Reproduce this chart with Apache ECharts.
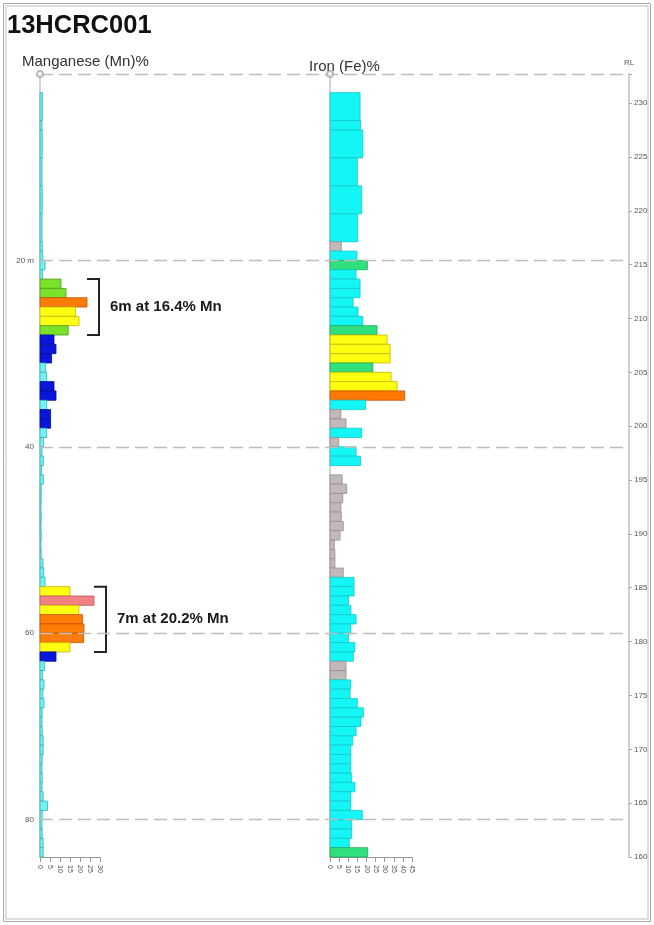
<!DOCTYPE html>
<html><head><meta charset="utf-8">
<script src="https://cdn.jsdelivr.net/npm/echarts@6/dist/echarts.min.js"></script>
<style>html,body{margin:0;padding:0;background:#fff}#c{width:654px;height:925px}</style>
</head><body><div id="c"></div>
<script>
// ---------- data ----------
const holeId = '13HCRC001';
const mnTitle = 'Manganese (Mn)%';
const feTitle = 'Iron (Fe)%';
const depthMin = 0, depthMax = 84;           // metres down hole
const rlTop = 232.7, rlBottom = 160;         // reduced level at collar / end of hole
const depthTickStep = 20;
const rlTickStep = 5;
const mnAxisMax = 30, feAxisMax = 45, gradeTickStep = 5;

// [from, to, Mn %]
const mnIntervals = [
  [2,5,1.2],[5,6,1.0],[6,9,1.1],[9,12,1.0],[12,15,1.1],[15,18,1.0],[18,19,1.1],[19,20,1.4],[20,21,2.5],[21,22,1.3],
  [22,23,10.5],[23,24,13],[24,25,23.5],[25,26,17.8],[26,27,19.5],[27,28,14.1],
  [28,29,7],[29,30,8],[30,31,5.8],[31,32,2.8],[32,33,3.3],[33,34,7],[34,35,8],[35,36,3.3],[36,37,5.3],[37,38,5.3],
  [38,39,3.3],[39,40,1.7],[40,41,1.0],[41,42,1.7],[42,43,0.8],[43,44,1.7],[44,45,0.6],[45,46,0.6],[46,47,0.5],
  [47,48,0.6],[48,49,0.5],[49,50,0.6],[50,51,0.5],[51,52,0.6],[52,53,1.5],[53,54,1.8],[54,55,2.5],
  [55,56,15],[56,57,27],[57,58,19.4],[58,59,21.2],[59,60,22],[60,61,21.8],[61,62,15],
  [62,63,8],[63,64,2.2],[64,65,1.2],[65,66,2.0],[66,67,1.4],[67,68,2.0],[68,69,1.1],[69,70,1.0],[70,71,1.1],
  [71,72,1.6],[72,73,1.6],[73,74,1.1],[74,75,1.0],[75,76,1.1],[76,77,1.0],[77,78,1.6],[78,79,3.8],[79,80,1.1],
  [80,81,1.0],[81,82,1.1],[82,83,1.6],[83,84,1.6]
];

// [from, to, Fe %]
const feIntervals = [
  [2,5,16.5],[5,6,16.8],[6,9,18],[9,12,15],[12,15,17.4],[15,18,15.2],[18,19,6.2],[19,20,14.8],[20,21,20.5],
  [21,22,14.3],[22,23,16.5],[23,24,16.5],[24,25,12.7],[25,26,15.4],[26,27,18],[27,28,25.8],[28,29,31.3],
  [29,30,33],[30,31,33],[31,32,23.5],[32,33,33.5],[33,34,36.8],[34,35,41],[35,36,19.5],[36,37,6],[37,38,8.8],
  [38,39,17.4],[39,40,4.8],[40,41,14.3],[41,42,16.8],
  [43,44,6.7],[44,45,9.2],[45,46,7],[46,47,6],[47,48,6.2],[48,49,7.3],[49,50,5.5],[50,51,2.4],[51,52,2.7],
  [52,53,2.7],[53,54,7.3],
  [54,55,13.2],[55,56,13.2],[56,57,10.2],[57,58,11.5],[58,59,14.3],[59,60,11.4],[60,61,10.2],[61,62,13.7],
  [62,63,12.8],[63,64,8.8],[64,65,8.8],
  [65,66,11.4],[66,67,11],[67,68,15],[68,69,18.3],[69,70,17],[70,71,14.3],[71,72,12.5],[72,73,11.4],[73,74,11.4],
  [74,75,11.4],[75,76,11.9],[76,77,13.7],[77,78,11.4],[78,79,11.4],[79,80,17.7],[80,81,11.9],[81,82,11.9],
  [82,83,10.6],[83,84,20.7]
];

// significant intercepts
const interceptFrom = [22, 55];
const interceptTo = [28, 62];
const interceptLabel = ['6m at 16.4% Mn', '7m at 20.2% Mn'];

// grade classes
const mnBreaks = [5, 10, 15, 20, 25];
const feBreaks = [10, 20, 30, 40];

// ---------- styles ----------
const mnFill   = ['#6ff3f3', '#0a16dc', '#7be22c', '#ffff12', '#ff7c06', '#f08282'];
const mnStroke = ['#2fb4b4', '#050c8a', '#4f9a18', '#c8b400', '#c85200', '#c05858'];
const feFill   = ['#c1b9b9', '#14f6f6', '#2fe07c', '#ffff10', '#ff7a04'];
const feStroke = ['#9a8e8e', '#14c8c8', '#1fa85a', '#c8b400', '#c85200'];
const FONT = 'Liberation Sans, Arial, sans-serif';

function classIndex(v, breaks) { let k = 0; while (k < breaks.length && v >= breaks[k]) k++; return k; }

function barRenderer(fills, strokes, breaks) {
  return function (params, api) {
    const from = api.value(0), to = api.value(1), v = api.value(2);
    const p0 = api.coord([0, from]);
    const p1 = api.coord([v, to]);
    const k = classIndex(v, breaks);
    return {
      type: 'rect',
      shape: { x: p0[0], y: p0[1], width: p1[0] - p0[0], height: p1[1] - p0[1] },
      style: { fill: fills[k], stroke: strokes[k], lineWidth: 0.8 }
    };
  };
}

const interceptData = interceptFrom.map((f, i) => {
  const t = interceptTo[i];
  let mx = 0;
  mnIntervals.forEach(r => { if (r[0] >= f && r[1] <= t) mx = Math.max(mx, r[2]); });
  return [f, t, mx, i];
});

const TOP = 74, BOTTOM = 925 - 857;

const chart = echarts.init(document.getElementById('c'), null, { renderer: 'canvas' });

const depthAxisBase = {
  type: 'value', inverse: true, min: depthMin, max: depthMax, interval: depthTickStep,
  splitLine: { show: false }
};

const gradeAxisBase = {
  type: 'value', interval: gradeTickStep, position: 'bottom', min: 0,
  axisLine: { show: true, onZero: false, lineStyle: { color: '#9a9a9a', width: 1 } },
  axisTick: { show: true, length: 5, lineStyle: { color: '#9a9a9a' } },
  axisLabel: { rotate: -90, fontSize: 7, color: '#555', margin: 8 },
  splitLine: { show: false }
};

chart.setOption({
  animation: false,
  backgroundColor: '#fff',
  textStyle: { fontFamily: FONT },
  title: [
    { text: holeId, left: 7, top: 13, padding: 0, textStyle: { fontSize: 25.5, fontWeight: 'bold', color: '#111', fontFamily: FONT } },
    { text: mnTitle, left: 22, top: 54, padding: 0, textStyle: { fontSize: 15, fontWeight: 'normal', color: '#333', fontFamily: FONT } },
    { text: feTitle, left: 309, top: 59, padding: 0, textStyle: { fontSize: 15, fontWeight: 'normal', color: '#333', fontFamily: FONT } }
  ],
  graphic: [
    { type: 'rect', shape: { x: 3.5, y: 3.5, width: 647, height: 918 }, style: { fill: 'none', stroke: '#a8a8a8', lineWidth: 1 }, silent: true },
    { type: 'rect', shape: { x: 6, y: 6, width: 642, height: 913 }, style: { fill: 'none', stroke: '#d4d4d4', lineWidth: 1.5 }, silent: true }
  ],
  grid: [
    { left: 40, right: 654 - 629, top: TOP, bottom: BOTTOM },
    { left: 40, width: 60, top: TOP, bottom: BOTTOM },
    { left: 330, width: 82, top: TOP, bottom: BOTTOM }
  ],
  xAxis: [
    { gridIndex: 0, type: 'value', min: 0, max: 1, show: false },
    Object.assign({}, gradeAxisBase, { gridIndex: 1, max: mnAxisMax }),
    Object.assign({}, gradeAxisBase, { gridIndex: 2, max: feAxisMax })
  ],
  yAxis: [
    Object.assign({}, depthAxisBase, {
      gridIndex: 0, position: 'left',
      axisLine: { show: false }, axisTick: { show: false },
      axisLabel: { fontSize: 8, color: '#555', margin: 6,
        formatter: v => (v === 0 || v % depthTickStep !== 0) ? '' : (v === depthTickStep ? v + ' m' : String(v)) }
    }),
    { gridIndex: 0, type: 'value', position: 'right', min: rlBottom, max: rlTop, interval: rlTickStep,
      name: 'RL', nameLocation: 'end', nameGap: 7, nameTextStyle: { fontSize: 8, color: '#555' },
      axisLine: { show: true, lineStyle: { color: '#cfcfcf', width: 2 } },
      axisTick: { show: true, length: 3, lineStyle: { color: '#aaa' } },
      axisLabel: { fontSize: 8, color: '#555', margin: 5,
        formatter: v => (Math.abs(v % rlTickStep) > 1e-6) ? '' : String(Math.round(v)) },
      splitLine: { show: false } },
    Object.assign({}, depthAxisBase, { gridIndex: 1,
      axisLine: { show: true, lineStyle: { color: '#c4c4c4', width: 1.5 } }, axisTick: { show: false }, axisLabel: { show: false } }),
    Object.assign({}, depthAxisBase, { gridIndex: 2,
      axisLine: { show: true, lineStyle: { color: '#c4c4c4', width: 1.5 } }, axisTick: { show: false }, axisLabel: { show: false } })
  ],
  series: [
    { type: 'line', xAxisIndex: 0, yAxisIndex: 0, data: [[0, 0]], showSymbol: false, lineStyle: { opacity: 0 }, silent: true,
      markLine: { silent: true, symbol: ['none', 'none'], label: { show: false },
        lineStyle: { color: '#bdbdbd', width: 1.3, type: [13, 6] },
        data: [0, 20, 40, 60, 80].map(d => ({ yAxis: d })) } },
    { type: 'custom', name: 'Mn', xAxisIndex: 1, yAxisIndex: 2, clip: false,
      renderItem: barRenderer(mnFill, mnStroke, mnBreaks), encode: { x: 2, y: [0, 1] }, data: mnIntervals },
    { type: 'custom', name: 'Fe', xAxisIndex: 2, yAxisIndex: 3, clip: false,
      renderItem: barRenderer(feFill, feStroke, feBreaks), encode: { x: 2, y: [0, 1] }, data: feIntervals },
    { type: 'custom', name: 'intercepts', xAxisIndex: 1, yAxisIndex: 2, clip: false,
      encode: { x: 2, y: [0, 1] }, data: interceptData,
      renderItem: function (params, api) {
        const f = api.value(0), t = api.value(1), mx = api.value(2), i = api.value(3);
        const pTop = api.coord([mx, f]), pBot = api.coord([mx, t]);
        const xr = pTop[0] + 12;
        return { type: 'group', children: [
          { type: 'polyline', shape: { points: [[xr - 12, pTop[1]], [xr, pTop[1]], [xr, pBot[1]], [xr - 12, pBot[1]]] },
            style: { stroke: '#222', lineWidth: 2, fill: null } },
          { type: 'text', style: { text: interceptLabel[i], x: xr + 11, y: (pTop[1] + pBot[1]) / 2,
            fontSize: 15, fontWeight: 'bold', fill: '#1a1a1a', fontFamily: FONT, verticalAlign: 'middle', align: 'left' } }
        ] };
      } },
    { type: 'scatter', xAxisIndex: 1, yAxisIndex: 2, clip: false, data: [[0, 0]], symbol: 'emptyCircle', symbolSize: 6,
      itemStyle: { color: '#aaa', borderWidth: 1 }, silent: true, z: 5 },
    { type: 'scatter', xAxisIndex: 2, yAxisIndex: 3, clip: false, data: [[0, 0]], symbol: 'emptyCircle', symbolSize: 6,
      itemStyle: { color: '#aaa', borderWidth: 1 }, silent: true, z: 5 }
  ]
});
</script></body></html>
